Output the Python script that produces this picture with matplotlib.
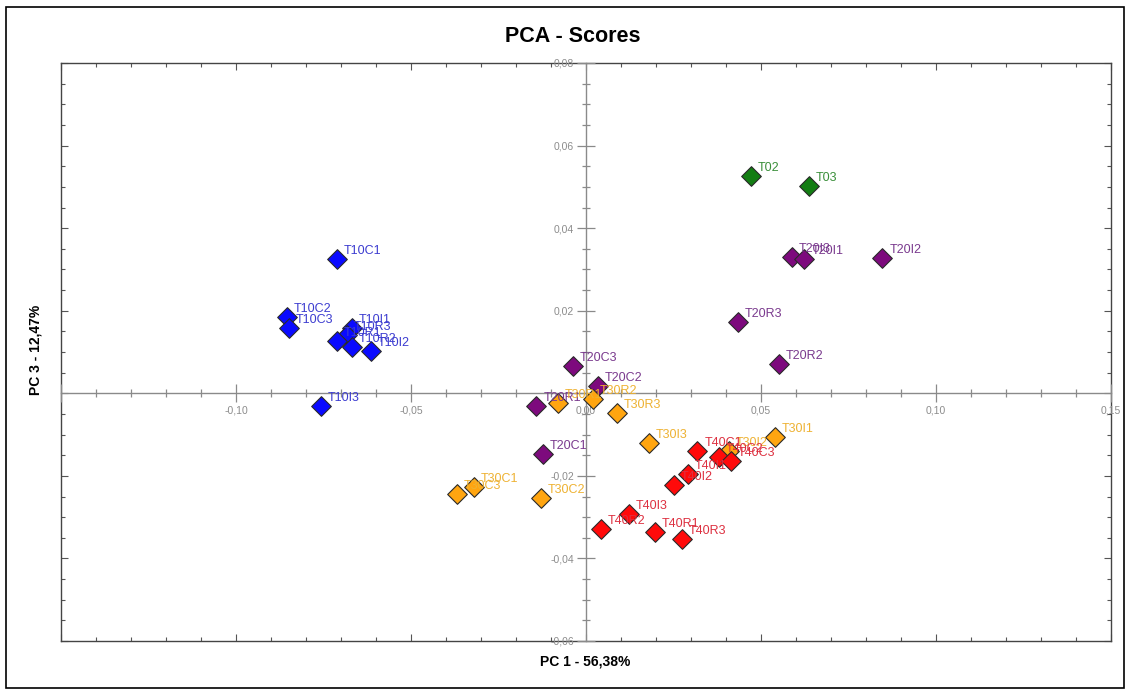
import matplotlib.pyplot as plt
import numpy as np
from matplotlib.patches import Rectangle
from matplotlib.ticker import MultipleLocator, FuncFormatter

# PCA scores (PC1, PC3) per group
t0_names = ['T02', 'T03']
t0_pc1 = [0.0472, 0.0636]
t0_pc3 = [0.0527, 0.0501]

t10_names = ['T10C1', 'T10C2', 'T10C3', 'T10I1', 'T10R3', 'T10R1', 'T10R2', 'T10I2', 'T10I3']
t10_pc1 = [-0.0712, -0.0854, -0.0849, -0.0670, -0.0684, -0.0712, -0.0668, -0.0615, -0.0757]
t10_pc3 = [0.0325, 0.0185, 0.0157, 0.0159, 0.0141, 0.0127, 0.0113, 0.0103, -0.0031]

t20_names = ['T20C3', 'T20C2', 'T20R1', 'T20C1', 'T20I3', 'T20I1', 'T20I2', 'T20R3', 'T20R2']
t20_pc1 = [-0.0038, 0.0033, -0.0142, -0.0123, 0.0589, 0.0624, 0.0847, 0.0434, 0.0551]
t20_pc3 = [0.0066, 0.0018, -0.0031, -0.0148, 0.0329, 0.0325, 0.0327, 0.0173, 0.0072]

t30_names = ['T30R1', 'T30R2', 'T30R3', 'T30I3', 'T30C1', 'T30C3', 'T30C2', 'T30I1', 'T30I2']
t30_pc1 = [-0.0081, 0.0019, 0.0088, 0.0180, -0.0321, -0.0370, -0.0128, 0.0539, 0.0408]
t30_pc3 = [-0.0023, -0.0015, -0.0048, -0.0121, -0.0227, -0.0245, -0.0253, -0.0105, -0.0141]

t40_names = ['T40C1', 'T40C2', 'T40C3', 'T40I1', 'T40I2', 'T40I3', 'T40R2', 'T40R1', 'T40R3']
t40_pc1 = [0.0318, 0.0380, 0.0413, 0.0290, 0.0252, 0.0123, 0.0043, 0.0197, 0.0275]
t40_pc3 = [-0.0141, -0.0154, -0.0164, -0.0196, -0.0221, -0.0293, -0.0328, -0.0336, -0.0354]

groups = [
    (t0_names, t0_pc1, t0_pc3, '#137d13', '#3a8f3a'),
    (t10_names, t10_pc1, t10_pc3, '#0a0aff', '#3c3cd0'),
    (t20_names, t20_pc1, t20_pc3, '#7d0a7d', '#7a3a8e'),
    (t30_names, t30_pc1, t30_pc3, '#ffa510', '#eeb233'),
    (t40_names, t40_pc1, t40_pc3, '#ff0a0a', '#dd3040'),
]

W, H = 1131, 689
fig = plt.figure(figsize=(W / 100, H / 100), dpi=100)
rect = [61 / W, (H - 641) / H, (1111 - 61) / W, (641 - 63) / H]

# frame with inward ticks
frame = fig.add_axes(rect)
frame.set_xlim(-0.15, 0.15)
frame.set_ylim(-0.06, 0.08)
for s in frame.spines.values():
    s.set_color('#444444')
    s.set_linewidth(1.0)
frame.xaxis.set_major_locator(MultipleLocator(0.05))
frame.xaxis.set_minor_locator(MultipleLocator(0.01))
frame.yaxis.set_major_locator(MultipleLocator(0.02))
frame.yaxis.set_minor_locator(MultipleLocator(0.005))
frame.tick_params(which='both', direction='in', top=True, right=True,
                  labelbottom=False, labelleft=False, color='#555555', width=0.8)
frame.tick_params(which='major', length=5)
frame.tick_params(which='minor', length=3)

# data axes with spines through the origin
ax = fig.add_axes(rect, facecolor='none')
ax.set_xlim(-0.15, 0.15)
ax.set_ylim(-0.06, 0.08)
for side in ['top', 'right']:
    ax.spines[side].set_visible(False)
for side in ['left', 'bottom']:
    ax.spines[side].set_position(('data', 0))
    ax.spines[side].set_color('#8a8a8a')
    ax.spines[side].set_linewidth(1.0)
ax.xaxis.set_major_locator(MultipleLocator(0.05))
ax.xaxis.set_minor_locator(MultipleLocator(0.01))
ax.yaxis.set_major_locator(MultipleLocator(0.02))
ax.yaxis.set_minor_locator(MultipleLocator(0.005))


def fmt_x(v, pos):
    if v < -0.145:
        return ''
    return f'{v:.2f}'.replace('.', ',')


def fmt_y(v, pos):
    if abs(v) < 1e-9:
        return ''
    return f'{v:.2f}'.replace('.', ',')


ax.xaxis.set_major_formatter(FuncFormatter(fmt_x))
ax.yaxis.set_major_formatter(FuncFormatter(fmt_y))
ax.tick_params(which='both', direction='inout', color='#8a8a8a', width=0.9,
               labelsize=7.5, labelcolor='#8c8c8c', labelfontfamily='Liberation Sans')
ax.tick_params(which='major', length=13, pad=2)
ax.tick_params(which='minor', length=6)

for names, xs, ys, fc, tc in groups:
    ax.scatter(xs, ys, marker='D', s=100, color=fc, edgecolors='#2a2a2a',
               linewidths=0.8, zorder=3, clip_on=False)

for names, xs, ys, fc, tc in groups:
    for n, x, y in zip(names, xs, ys):
        ax.annotate(n, (x, y), xytext=(5, 3.6), textcoords='offset points',
                    ha='left', va='baseline', fontsize=9, color=tc,
                    family='Liberation Sans', zorder=4)

fig.text(573 / W, 1 - 37 / H, 'PCA - Scores', ha='center', va='center',
         fontsize=15.5, fontweight='bold', family='Liberation Sans')
fig.text(585 / W, 1 - 662 / H, 'PC 1 - 56,38%', ha='center', va='center',
         fontsize=10, fontweight='bold', family='Liberation Sans')
fig.text(35 / W, 1 - 350 / H, 'PC 3 - 12,47%', ha='center', va='center',
         rotation=90, fontsize=10, fontweight='bold', family='Liberation Sans')

fig.patches.append(Rectangle((6 / W, 1 / H), (1124 - 6) / W, (688 - 7) / H,
                             transform=fig.transFigure, fill=False,
                             edgecolor='black', linewidth=1.2))

fig.savefig('out.png', dpi=100)
